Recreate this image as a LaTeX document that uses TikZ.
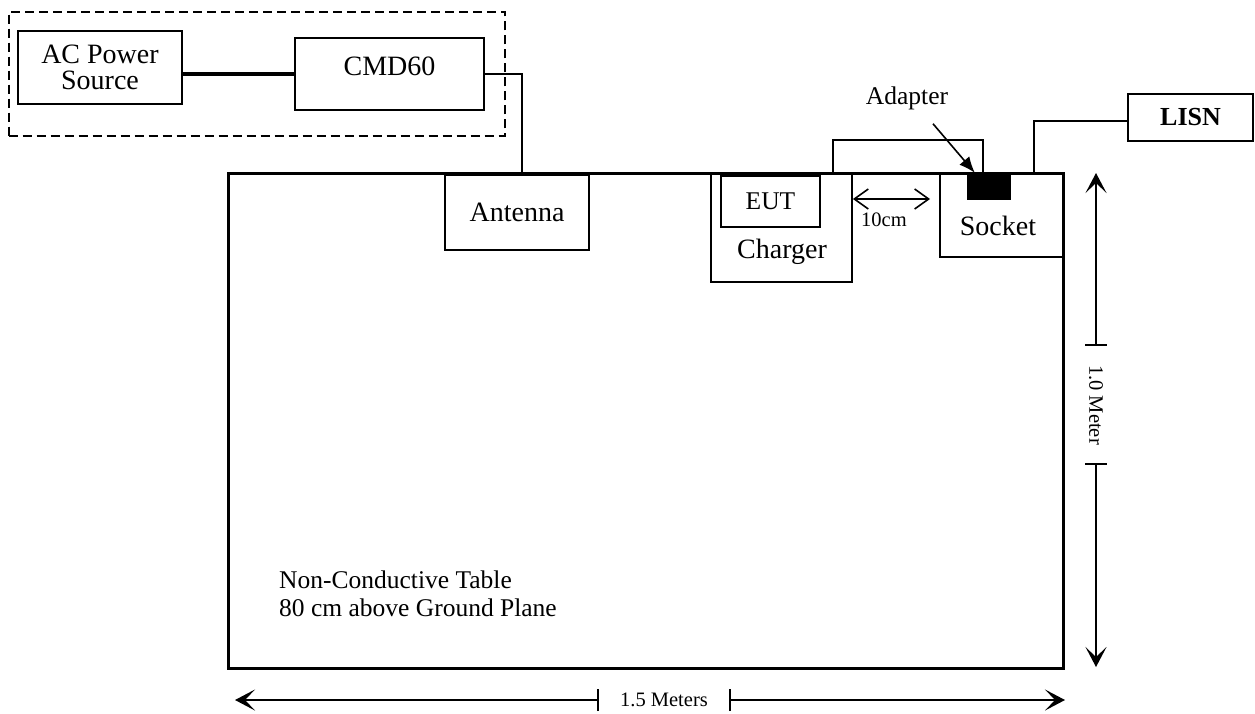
\documentclass[tikz,border=0pt]{standalone}
\usepackage{fontspec}
\setmainfont{Liberation Serif}
\usetikzlibrary{arrows.meta}
\begin{document}
\begin{tikzpicture}[x=1pt,y=-1pt,
  box/.style={draw,line width=1.8pt,inner sep=0pt,rectangle},
  big/.style={inner sep=0pt,font=\fontsize{28}{26}\selectfont},
  mid/.style={inner sep=0pt,font=\fontsize{25.5}{28}\selectfont},
  small/.style={inner sep=0pt,font=\fontsize{20.5}{22}\selectfont},
  wire/.style={line width=2.2pt},
  dimline/.style={line width=1.6pt},
  dimtip/.style={dimline,-{Stealth[length=20pt,width=21pt,inset=10pt]}},
]
\useasboundingbox (0,0) rectangle (1255,713);
% group frame
\node[draw,line width=2pt,dash pattern=on 9pt off 5pt,inner sep=0pt,
  minimum width=496.4pt,minimum height=124.3pt] (grp) at (256.8,73.85) {};
% table
\node[draw,line width=3pt,inner sep=0pt,minimum width=835pt,minimum height=495pt] (table) at (645.5,420.5) {};
% boxes
\node[box,big,align=center,minimum width=164pt,minimum height=73pt] (ac) at (100,67.5) {AC Power\\Source};
\node[box,minimum width=189pt,minimum height=72pt] (cmd) at (389.5,74) {};
\node[big] (cmdlbl) at (389.5,66) {CMD60};
\node[box,big,minimum width=144pt,minimum height=75pt] (ant) at (517,212.5) {Antenna};
\node[box,minimum width=141pt,minimum height=109pt] (charger) at (781.5,227.5) {};
\node[big] (chglbl) at (782,252) {Charger};
\node[box,mid,minimum width=99pt,minimum height=51pt] (eut) at (770.5,201.5) {EUT};
\node[box,minimum width=123pt,minimum height=84pt] (socket) at (1001.5,215) {};
\node[big] (socklbl) at (998,226) {Socket};
\node[fill=black,draw=black,inner sep=0pt,minimum width=43pt,minimum height=26pt] (adapter) at (988.5,186) {};
\node[box,inner sep=0pt,minimum width=125pt,minimum height=47pt,font=\fontsize{26}{28}\selectfont\bfseries] (lisn) at (1190.5,117.5) {LISN};
\node[mid] (adlbl) at (907,98) {Adapter};
\node[mid,align=left,anchor=west] (note) at (279,594) {Non-Conductive Table\\80 cm above Ground Plane};
% wires
\draw[line width=3.2pt] (cmd.west -| ac.east) -- (cmd.west);
\draw[wire] (cmd.east) -| ([xshift=5pt]ant.north);
\draw[wire] ([xshift=-20pt]charger.north east) -- ++(0,-32) -| ([xshift=16pt]adapter.north west);
\draw[wire] ([yshift=-3.5pt]lisn.west) -| ([xshift=32.5pt]socket.north);
% adapter arrow
\draw[line width=1.6pt,-{Latex[length=16pt,width=13pt]}] ([xshift=26pt,yshift=-14pt]adlbl.south) -- ([xshift=8pt]adapter.north west);
% 10cm
\coordinate (d2) at (930,199);
\draw[line width=1.6pt,{Straight Barb[length=14pt,width=20pt]}-{Straight Barb[length=14pt,width=20pt]}] ([yshift=28.5pt]charger.east) -- (d2);
\node[small] (tencm) at (884,220) {10cm};
% vertical dimension
\coordinate (vtop) at (1096,173);
\coordinate (vt1) at (1096,345);
\coordinate (vt2) at (1096,464);
\coordinate (vbot) at (1096,667);
\node[small,rotate=-90] (vlbl) at (1096,405) {1.0 Meter};
\draw[dimtip] (vt1) -- (vtop);
\draw[dimtip] (vt2) -- (vbot);
\draw[dimline] ([xshift=-11pt]vt1) -- ([xshift=11pt]vt1);
\draw[dimline] ([xshift=-11pt]vt2) -- ([xshift=11pt]vt2);
% horizontal dimension
\coordinate (hl) at (235,700);
\coordinate (ht1) at (598,700);
\coordinate (ht2) at (730,700);
\coordinate (hr) at (1065,700);
\node[small] (hlbl) at (664,700) {1.5 Meters};
\draw[dimtip] (ht1) -- (hl);
\draw[dimtip] (ht2) -- (hr);
\draw[dimline] ([yshift=-11pt]ht1) -- ([yshift=11pt]ht1);
\draw[dimline] ([yshift=-11pt]ht2) -- ([yshift=11pt]ht2);
\end{tikzpicture}
\end{document}
